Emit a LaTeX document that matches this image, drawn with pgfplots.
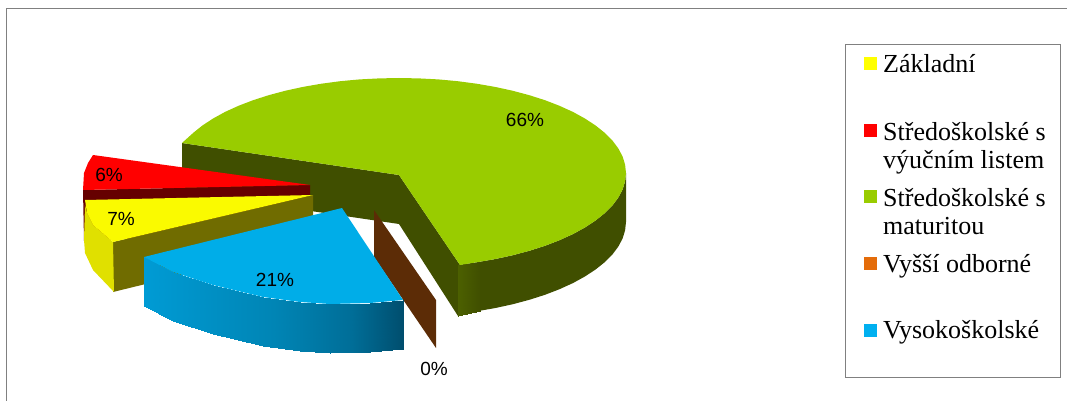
\documentclass[border=0pt]{standalone}
\usepackage{fontspec}
\setmainfont{Liberation Serif}
\newfontfamily\lsans{Liberation Sans}
\usepackage{pgfplots}
\pgfplotsset{compat=1.18}
\definecolor{grntop}{HTML}{99CC00}
\definecolor{grnside}{HTML}{404F00}
\definecolor{redtop}{HTML}{FF0000}
\definecolor{redside}{HTML}{660000}
\definecolor{yeltop}{HTML}{FAFA00}
\definecolor{yelkey}{HTML}{FFFF00}
\definecolor{yelout}{HTML}{E0E000}
\definecolor{yelin}{HTML}{706C00}
\definecolor{blutop}{HTML}{00ADE8}
\definecolor{brown0}{HTML}{5C2C06}
\definecolor{framec}{HTML}{808080}
\pgfplotsset{
  colormap={bluewall}{rgb255(0cm)=(0,155,212); rgb255(5cm)=(0,133,181); rgb255(8cm)=(0,110,152); rgb255(10cm)=(0,78,110)},
  colormap={greenwall}{rgb255(0cm)=(64,79,0); rgb255(1cm)=(76,96,0)},
}
\newcommand{\leglabel}[3]{\node[anchor=base west,inner sep=0pt,font=\fontsize{26}{26}\selectfont] at (axis cs:#1,#2) {#3};}
\newcommand{\pct}[3]{\node[inner sep=0pt,font=\lsans\fontsize{19}{19}\selectfont] at (axis cs:#1,#2) {#3};}
\begin{document}
\begin{tikzpicture}
\path[use as bounding box] (0,0) rectangle (1067pt,401pt);
\begin{axis}[
  at={(0,0)}, anchor=south west,
  scale only axis, width=1067pt, height=401pt,
  xmin=0, xmax=1067, ymin=0, ymax=401, y dir=reverse,
  hide axis, clip=true,
  point meta min=0, point meta max=1,
]
% green slice: wall, outer side, top
\addplot[fill=grnside,draw=none] coordinates {(182,143) (399,175) (460,265) (458,316) (399,224) (182,192)} --cycle;
\addplot[fill=grnside,draw=none] coordinates {
  (626,173) (625.1,181.3) (622.6,189.5) (618.3,197.6) (612.4,205.5) (604.7,213.2) (595.6,220.5) (584.9,227.5)
  (572.9,234.1) (559.5,240.2) (545,245.8) (529.3,250.8) (512.5,255.3) (495,259.1) (476.6,262.3) (458,265)
  (458,316) (476.6,311.3) (495,308.1) (512.5,304.3) (529.3,299.8) (545,294.8) (559.5,289.2) (572.9,283.1)
  (584.9,276.5) (595.6,269.5) (604.7,262.2) (612.4,254.5) (618.3,246.6) (622.6,238.5) (625.1,230.3) (626,222)} --cycle;
\addplot[patch,patch type=rectangle,shader=interp,colormap name=greenwall,point meta=explicit]
  table[meta=c] {
x y c
458 265 1
458 316 1
480 310.7 0
480 261.7 0
};
\addplot[fill=grntop,draw=none] coordinates {
  (182,143) (193.3,132.8) (202.4,125.5) (213.1,118.5) (225.1,111.9) (238.5,105.8) (253.1,100.2) (268.7,95.2)
  (285.5,90.7) (303,86.9) (321.4,83.7) (340.2,81.2) (359.6,79.4) (379.2,78.4) (399,78)
  (418.8,78.4) (438.4,79.4) (457.8,81.2) (476.6,83.7) (495,86.9) (512.5,90.7) (529.3,95.2) (545,100.2) (559.5,105.8)
  (572.9,111.9) (584.9,118.5) (595.6,125.5) (604.7,132.8) (612.4,140.5) (618.3,148.4) (622.6,156.5) (625.1,164.7) (626,173)
  (625.1,181.3) (622.6,189.5) (618.3,197.6) (612.4,205.5) (604.7,213.2) (595.6,220.5) (584.9,227.5) (572.9,234.1)
  (559.5,240.2) (545,245.8) (529.3,250.8) (512.5,255.3) (495,259.1) (476.6,262.3) (460,265) (399,175)} --cycle;
% 0 % slice, only its wall shows
\addplot[fill=brown0,draw=none] coordinates {(374,210) (436,300) (436,348) (374,257)} --cycle;
% red slice
\addplot[fill=redside,draw=none] coordinates {(83,190) (310,185) (310,195) (313,230) (84,241)} --cycle;
\addplot[fill=redtop,draw=none] coordinates {(93,155) (88,163) (84,173) (83,190) (310,185)} --cycle;
% yellow slice
\addplot[fill=yelin,draw=none] coordinates {(113,242) (313,195) (313,243) (113,292)} --cycle;
\addplot[fill=yelout,draw=none] coordinates {(85,205) (87,213) (93,225) (113,242) (114,292) (93,270) (85,253) (84,240)} --cycle;
\addplot[fill=yeltop,draw=none] coordinates {(85,200) (313,195) (113,242) (93,225) (87,213)} --cycle;
% blue slice
\addplot[patch,patch type=rectangle,shader=interp,colormap name=bluewall,point meta=explicit]
  table[meta=c] {
x y c
144 257 0
144 306 0
173 321 .11
173 272 .11
173 272 .11
173 321 .11
213 334 .27
213 285 .27
213 285 .27
213 334 .27
263 346 .46
263 297 .46
263 297 .46
263 346 .46
300 351 .60
300 302 .60
300 302 .60
300 351 .60
330 353 .72
330 304 .72
330 304 .72
330 353 .72
370 352 .87
370 303 .87
370 303 .87
370 352 .87
403 349 1
403 300 1
};
\addplot[fill=blutop,draw=none] coordinates {(144,257) (342,208) (403,300) (370,303) (330,304) (300,302) (263,297) (213,285) (173,272)} --cycle;
% legend keys
\addplot[fill=yelkey,draw=none] coordinates {(864,57) (877,57) (877,70) (864,70)} --cycle;
\addplot[fill=redtop,draw=none] coordinates {(864,124) (877,124) (877,137) (864,137)} --cycle;
\addplot[fill=grntop,draw=none] coordinates {(864,190) (877,190) (877,203) (864,203)} --cycle;
\addplot[fill={rgb,255:red,228;green,108;blue,10},draw=none] coordinates {(864,257) (877,257) (877,270) (864,270)} --cycle;
\addplot[fill={rgb,255:red,0;green,176;blue,240},draw=none] coordinates {(864,324) (877,324) (877,337) (864,337)} --cycle;
% frames
\draw[framec,line width=1pt] (axis cs:6.5,401) -- (axis cs:6.5,8.5) -- (axis cs:1067,8.5);
\draw[framec,line width=1pt] (axis cs:845.5,44.5) rectangle (axis cs:1060,377);
% texts
\pct{525}{120}{66\%}
\pct{109}{175}{6\%}
\pct{121}{219}{7\%}
\pct{275}{280}{21\%}
\pct{434}{369}{0\%}
\leglabel{883}{73}{Základní}
\leglabel{883}{140}{Středoškolské s}
\leglabel{883}{168}{výučním listem}
\leglabel{883}{206}{Středoškolské s}
\leglabel{883}{234}{maturitou}
\leglabel{883}{272}{Vyšší odborné}
\leglabel{883}{338}{Vysokoškolské}
\end{axis}
\end{tikzpicture}
\end{document}
